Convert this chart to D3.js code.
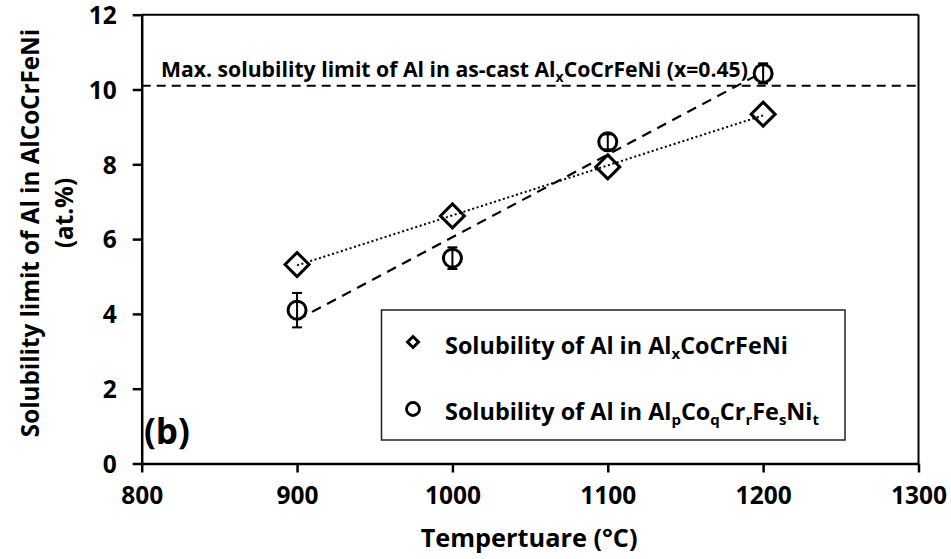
<!DOCTYPE html>
<html>
<head>
<meta charset="utf-8">
<script src="https://cdn.jsdelivr.net/npm/d3@7"></script>
<style>
  html, body { margin: 0; padding: 0; background: #fff; }
  svg { display: block; font-family: "Open Sans", "DejaVu Sans", sans-serif; font-weight: 700; }
</style>
</head>
<body>
<svg id="chart" width="951" height="559"></svg>
<script>
// Temperatures (°C)
const temps = [900, 1000, 1100, 1200];
// Solubility of Al in AlxCoCrFeNi (at.%)
const alxValues = [5.32, 6.62, 7.93, 9.34];
// Solubility of Al in AlpCoqCrrFesNit (at.%) with error bars
const alpValues = [4.10, 5.49, 8.60, 10.43];
const alpErrors = [0.46, 0.29, 0.20, 0.27];
// Max solubility of Al in as-cast AlxCoCrFeNi
const maxSolubility = 10.1;
// Axis ticks
const xTicks = [800, 900, 1000, 1100, 1200, 1300];
const yTicks = [0, 2, 4, 6, 8, 10, 12];

const svg = d3.select("#chart");
const x = d3.scaleLinear().domain([800, 1300]).range([141.7, 918.5]);
const y = d3.scaleLinear().domain([0, 12]).range([463.5, 14.7]);

// least-squares linear trend
function fit(xs, ys) {
  const mx = d3.mean(xs), my = d3.mean(ys);
  let num = 0, den = 0;
  xs.forEach((v, i) => { num += (v - mx) * (ys[i] - my); den += (v - mx) * (v - mx); });
  const b = num / den;
  return v => my + b * (v - mx);
}

// frame (top and right)
svg.append("line").attr("x1", x(800)).attr("x2", x(1300)).attr("y1", y(12)).attr("y2", y(12))
  .attr("stroke", "#000").attr("stroke-width", 2);
svg.append("line").attr("x1", x(1300)).attr("x2", x(1300)).attr("y1", y(12)).attr("y2", y(0))
  .attr("stroke", "#000").attr("stroke-width", 2);

// axes
const xAxis = svg.append("g").attr("transform", `translate(0,${y(0)})`)
  .call(d3.axisBottom(x).tickValues(xTicks).tickFormat(d3.format("d"))
    .tickSize(9).tickSizeOuter(0).tickPadding(14));
const yAxis = svg.append("g").attr("transform", `translate(${x(800)},0)`)
  .call(d3.axisLeft(y).tickValues(yTicks).tickFormat(d3.format("d"))
    .tickSize(9).tickSizeOuter(0).tickPadding(16));
[xAxis, yAxis].forEach(g => {
  g.select(".domain").attr("stroke", "#000").attr("stroke-width", 2.5);
  g.selectAll(".tick line").attr("stroke", "#000").attr("stroke-width", 2.5);
  g.selectAll(".tick text").attr("fill", "#000")
    .style("font-family", "'Open Sans', sans-serif").style("font-weight", 700).style("font-size", "24.5px");
});
xAxis.selectAll(".tick text").attr("dy", "0.71em");
yAxis.selectAll(".tick text").attr("dy", "0.36em");

// axis titles
svg.append("text").attr("x", x(1050) - 1).attr("y", 547)
  .attr("text-anchor", "middle").style("font-size", "25.3px").text("Tempertuare (°C)");
svg.append("text").attr("transform", "translate(39,233) rotate(-90)")
  .attr("text-anchor", "middle").style("font-size", "24.2px").text("Solubility limit of Al in AlCoCrFeNi");
svg.append("text").attr("transform", "translate(73,213) rotate(-90)")
  .attr("text-anchor", "middle").style("font-size", "24.2px").text("(at.%)");

// max solubility reference line
svg.append("line").attr("x1", x(800)).attr("x2", x(1300))
  .attr("y1", y(maxSolubility)).attr("y2", y(maxSolubility))
  .attr("stroke", "#000").attr("stroke-width", 2).attr("stroke-dasharray", "9,6");

const ann = svg.append("text").attr("x", 161).attr("y", 77).style("font-size", "21.2px");
ann.append("tspan").text("Max. solubility limit of Al in as-cast Al");
ann.append("tspan").attr("dy", 5).style("font-size", "14px").text("x");
ann.append("tspan").attr("dy", -5).text("CoCrFeNi (x=0.45)");

// trend lines
const fA = fit(temps, alxValues), fB = fit(temps, alpValues);
const line = d3.line().x(d => x(d[0])).y(d => y(d[1]));
svg.append("path").attr("d", line([[900, fA(900)], [1200, fA(1200)]]))
  .attr("fill", "none").attr("stroke", "#000").attr("stroke-width", 2).attr("stroke-dasharray", "2,2.6");
svg.append("path").attr("d", line([[900, fB(900)], [1200, fB(1200)]]))
  .attr("fill", "none").attr("stroke", "#000").attr("stroke-width", 2.2).attr("stroke-dasharray", "10,7");

// diamonds
const diamond = (cx, cy, r) => `M${cx},${cy - r}L${cx + r},${cy}L${cx},${cy + r}L${cx - r},${cy}Z`;
svg.append("g").selectAll("path").data(temps).join("path")
  .attr("d", (t, i) => diamond(x(t), y(alxValues[i]), 12))
  .attr("fill", "none").attr("stroke", "#000").attr("stroke-width", 3);

// circles with error bars
const pts = svg.append("g").selectAll("g").data(temps).join("g");
pts.append("line")
  .attr("x1", t => x(t)).attr("x2", t => x(t))
  .attr("y1", (t, i) => y(alpValues[i] + alpErrors[i])).attr("y2", (t, i) => y(alpValues[i] - alpErrors[i]))
  .attr("stroke", "#000").attr("stroke-width", 2);
pts.each(function (t, i) {
  const g = d3.select(this);
  [alpValues[i] + alpErrors[i], alpValues[i] - alpErrors[i]].forEach(v => {
    g.append("line").attr("x1", x(t) - 5).attr("x2", x(t) + 5).attr("y1", y(v)).attr("y2", y(v))
      .attr("stroke", "#000").attr("stroke-width", 2);
  });
});
pts.append("circle").attr("cx", t => x(t)).attr("cy", (t, i) => y(alpValues[i])).attr("r", 9)
  .attr("fill", "none").attr("stroke", "#000").attr("stroke-width", 3);

// legend
const lg = svg.append("g");
lg.append("rect").attr("x", 381.5).attr("y", 310).attr("width", 463.5).attr("height", 130)
  .attr("fill", "#fff").attr("stroke", "#222").attr("stroke-width", 1.5);
lg.append("path").attr("d", diamond(413, 342, 5.5)).attr("fill", "none").attr("stroke", "#000").attr("stroke-width", 3);
lg.append("circle").attr("cx", 413).attr("cy", 409).attr("r", 6.5).attr("fill", "none").attr("stroke", "#000").attr("stroke-width", 2.8);
const t1 = lg.append("text").attr("x", 445).attr("y", 354).style("font-size", "23.4px");
t1.append("tspan").text("Solubility of Al in Al");
t1.append("tspan").attr("dy", 5).style("font-size", "15px").text("x");
t1.append("tspan").attr("dy", -5).text("CoCrFeNi");
const t2 = lg.append("text").attr("x", 445).attr("y", 420).style("font-size", "23.4px");
t2.append("tspan").text("Solubility of Al in Al");
[["p", "Co"], ["q", "Cr"], ["r", "Fe"], ["s", "Ni"], ["t", ""]].forEach(([sub, next]) => {
  t2.append("tspan").attr("dy", 5).style("font-size", "15px").text(sub);
  if (next) t2.append("tspan").attr("dy", -5).text(next);
});

// panel label
svg.append("text").attr("x", 144).attr("y", 444).style("font-size", "35px").text("(b)");
</script>
</body>
</html>
